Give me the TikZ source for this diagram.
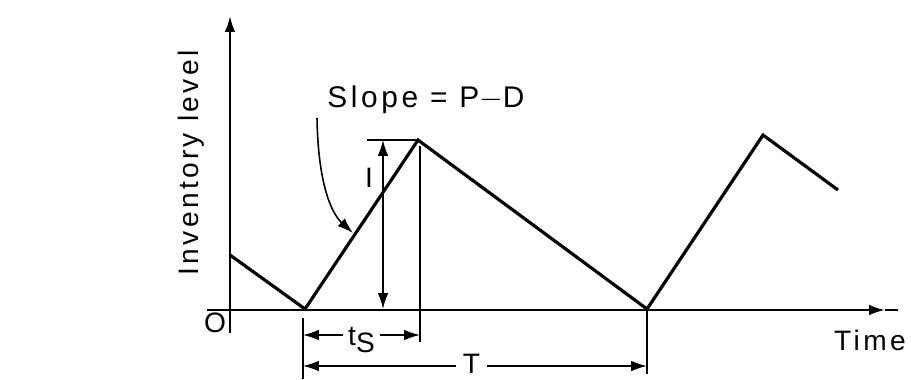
\documentclass[tikz,border=0pt]{standalone}
\usepackage{fontspec}
\usepackage{tikz}
\usetikzlibrary{arrows.meta}
\newfontfamily\labelfont[LetterSpace=12]{Liberation Sans}

\begin{document}
\begin{tikzpicture}[
    x=0.02cm, y=-0.02cm,
    lbl/.style={inner sep=0pt, font=\fontsize{16}{18}\labelfont},
    axisline/.style={line width=1.3pt},
    stockline/.style={line width=1.8pt, line join=miter},
    dimline/.style={line width=0.9pt},
    >={Latex[length=9pt, width=6pt]}
]
\useasboundingbox (0,0) rectangle (911,379);

% axes
\coordinate (o) at (230,310);
\coordinate (ytop) at (230,16);
\coordinate (ybot) at (230,333);
\coordinate (xleft) at (207,310);
\coordinate (xright) at (885,310);
\draw[axisline, ->] (ybot) -- (ytop);
\draw[axisline, ->] (xleft) -- (xright);
\draw[axisline] (xright) -- (898,310);

% inventory curve
\coordinate (s0) at (230,255);
\coordinate (v1) at (305,309);
\coordinate (p1) at (418,140);
\coordinate (v2) at (647,309);
\coordinate (p2) at (763,135);
\coordinate (e0) at (838,190);
\draw[stockline] (s0) -- (v1) -- (p1) -- (v2) -- (p2) -- (e0);

% labels
\node[lbl] (zero) at (215,323) {O};
\node[lbl, rotate=90] (ylabel) at (191,163) {Inventory level};
\node[lbl] (xlabel) at (870,340) {Time};
\node[lbl, font=\fontsize{17}{19}\labelfont] (slope) at (426,100) {Slope = P$-$D};

% slope pointer
\coordinate (sptr) at (317,118);
\coordinate (stip) at (353,233);
\draw[dimline, ->] (sptr) .. controls (318,180) and (330,212) .. (stip);

% peak height I
\coordinate (itop) at (383,140);
\coordinate (ibot) at (383,309);
\draw[dimline] (367,140) -- (p1);
\draw[dimline, <->] (itop) -- (ibot);
\node[lbl] (ilabel) at (369,178) {I};

% extension lines
\coordinate (ts0) at (303,335);
\coordinate (ts1) at (420,335);
\coordinate (t0) at (303,366);
\coordinate (t1) at (647,366);
\draw[dimline] (420,146) -- (420,342);
\draw[dimline] (303,318) -- (303,379);
\draw[dimline] (647,311) -- (647,374);

% cycle times
\draw[dimline, <->] (ts0) -- node[lbl, fill=white, inner xsep=3pt, yshift=-3pt] (tslabel) {t\raisebox{-0.45ex}{S}} (ts1);
\draw[dimline, <->] (t0) -- node[lbl, fill=white, inner xsep=4pt, xshift=-2pt, yshift=1pt] (tlabel) {T} (t1);
\end{tikzpicture}
\end{document}
